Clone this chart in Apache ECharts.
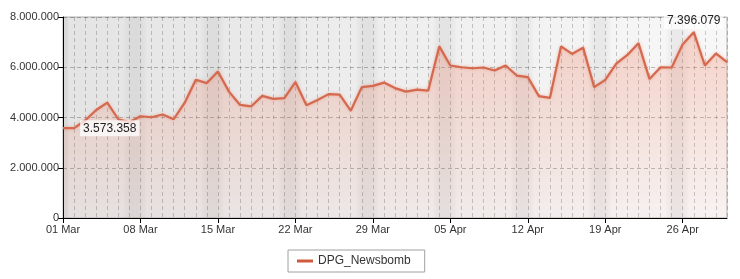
<!DOCTYPE html>
<html>
<head>
<meta charset="utf-8">
<script src="https://cdn.jsdelivr.net/npm/echarts@6/dist/echarts.min.js"></script>
<style>
html,body{margin:0;padding:0;background:#fff;}
#chart{width:740px;height:279px;}
</style>
</head>
<body>
<div id="chart"></div>
<script>
const seriesName = 'DPG_Newsbomb';
const days = [
 '01 Mar','02 Mar','03 Mar','04 Mar','05 Mar','06 Mar','07 Mar','08 Mar','09 Mar','10 Mar',
 '11 Mar','12 Mar','13 Mar','14 Mar','15 Mar','16 Mar','17 Mar','18 Mar','19 Mar','20 Mar',
 '21 Mar','22 Mar','23 Mar','24 Mar','25 Mar','26 Mar','27 Mar','28 Mar','29 Mar','30 Mar','31 Mar',
 '01 Apr','02 Apr','03 Apr','04 Apr','05 Apr','06 Apr','07 Apr','08 Apr','09 Apr','10 Apr',
 '11 Apr','12 Apr','13 Apr','14 Apr','15 Apr','16 Apr','17 Apr','18 Apr','19 Apr','20 Apr',
 '21 Apr','22 Apr','23 Apr','24 Apr','25 Apr','26 Apr','27 Apr','28 Apr','29 Apr','30 Apr'
];
// weekend days (Sat/Sun) shaded in the background
const weekendDays = ['01 Mar','07 Mar','08 Mar','14 Mar','15 Mar','21 Mar','22 Mar','28 Mar','29 Mar',
 '04 Apr','05 Apr','11 Apr','12 Apr','18 Apr','19 Apr','25 Apr','26 Apr'];
const values = [
 3580000,3573358,3880000,4300000,4590000,3930000,3810000,4050000,4010000,4120000,
 3930000,4590000,5500000,5370000,5830000,5030000,4500000,4440000,4860000,4740000,
 4770000,5410000,4490000,4700000,4930000,4910000,4270000,5210000,5260000,5390000,5170000,
 5030000,5110000,5070000,6830000,6070000,6000000,5960000,5990000,5870000,6070000,
 5670000,5610000,4850000,4780000,6830000,6530000,6780000,5210000,5500000,6140000,
 6490000,6960000,5530000,6000000,5990000,6920000,7396079,6070000,6550000,6200000
];
const xTickLabels = ['01 Mar','08 Mar','15 Mar','22 Mar','29 Mar','05 Apr','12 Apr','19 Apr','26 Apr'];
const yTicks = [0, 2000000, 4000000, 6000000, 8000000];

const fmt = v => String(Math.round(v)).replace(/\B(?=(\d{3})+(?!\d))/g, '.');
const tickIdx = xTickLabels.map(l => days.indexOf(l));

// group consecutive weekend days into bands
const wIdx = weekendDays.map(d => days.indexOf(d)).sort((a,b)=>a-b);
const bands = [];
wIdx.forEach(i => {
  const last = bands[bands.length-1];
  if (last && last[1] === i - 1) last[1] = i; else bands.push([i, i]);
});
const bandColor = {type:'linear', x:0, y:0, x2:1, y2:0, colorStops:[
  {offset:0, color:'rgba(0,0,0,0.01)'},{offset:0.3, color:'rgba(0,0,0,0.05)'},
  {offset:0.7, color:'rgba(0,0,0,0.05)'},{offset:1, color:'rgba(0,0,0,0.01)'}]};
const markAreaData = bands.map(b => [{xAxis: b[0]-0.5, itemStyle:{color: bandColor}}, {xAxis: b[1]+0.5}]);

const font = '"Liberation Sans", Arial, sans-serif';
const chart = echarts.init(document.getElementById('chart'), null, {renderer:'canvas'});
chart.setOption({
  animation: false,
  textStyle: {fontFamily: font},
  grid: {
    left: 63, right: 13, top: 17, bottom: 61, containLabel: false, outerBoundsMode: 'none',
    show: true, borderColor: '#b0b0b0', borderWidth: 1,
    backgroundColor: {type:'linear', x:0, y:0, x2:1, y2:0, colorStops:[
      {offset:0, color:'#e4e4e4'},{offset:0.5, color:'#eeeeee'},{offset:1, color:'#f8f8f8'}]}
  },
  legend: {
    left: 288, top: 250, orient: 'horizontal',
    borderColor: '#a0a0a0', borderWidth: 1, borderRadius: 0,
    padding: [5, 14, 5, 9],
    itemWidth: 16, itemHeight: 3, itemGap: 6,
    textStyle: {fontSize: 12, color: '#333', fontFamily: font},
    data: [{name: seriesName, icon: 'rect'}]
  },
  xAxis: [{
    type: 'value', min: 0, max: days.length - 1, interval: 1,
    axisLine: {show: true, lineStyle: {color: '#000', width: 1}},
    axisTick: {show: true, length: 5, customValues: tickIdx, lineStyle: {color: '#000'}},
    axisLabel: {show: true, customValues: tickIdx, formatter: v => days[v] || '', color: '#333', fontSize: 11, margin: 6, fontFamily: font},
    splitLine: {show: false}
  }, {
    type: 'value', min: 0, max: days.length - 1, interval: 1, position: 'bottom',
    axisLine: {show: false}, axisTick: {show: false}, axisLabel: {show: false},
    splitLine: {show: true, lineStyle: {color: 'rgba(0,0,0,0.2)', type: [4,3], width: 1}}
  }],
  yAxis: {
    type: 'value', min: yTicks[0], max: yTicks[yTicks.length-1], interval: yTicks[1]-yTicks[0],
    axisLine: {show: true, lineStyle: {color: '#000', width: 1}},
    axisTick: {show: true, length: 5, lineStyle: {color: '#000'}},
    axisLabel: {formatter: fmt, color: '#333', fontSize: 11, margin: 4, fontFamily: font},
    splitLine: {show: true, lineStyle: {color: 'rgba(0,0,0,0.25)', type: [4,3], width: 1}}
  },
  series: [{
    name: seriesName, type: 'line', xAxisIndex: 0,
    data: values.map((v, i) => [i, v]),
    symbol: 'none', showSymbol: false,
    color: '#cf5a3c',
    lineStyle: {color: '#d36a50', width: 2.2, shadowColor: 'rgba(240,120,90,0.5)', shadowBlur: 3},
    areaStyle: {color: {type:'linear', x:0, y:0, x2:0, y2:1, colorStops:[
      {offset:0, color:'rgba(240,130,100,0.45)'},{offset:1, color:'rgba(240,130,100,0.06)'}]}},
    markArea: {silent: true, data: markAreaData},
    markPoint: {
      symbol: 'circle', symbolSize: 0, silent: true,
      itemStyle: {color: 'transparent'},
      data: [
        {type: 'min', label: {position: 'right', distance: 6}},
        {type: 'max', label: {position: 'top', distance: 3}}
      ],
      label: {
        show: true, formatter: p => fmt(p.value), color: '#222', fontSize: 12, fontFamily: font,
        backgroundColor: 'rgba(255,255,255,0.75)', padding: [2, 3]
      }
    },
    z: 3
  }]
});
</script>
</body>
</html>
